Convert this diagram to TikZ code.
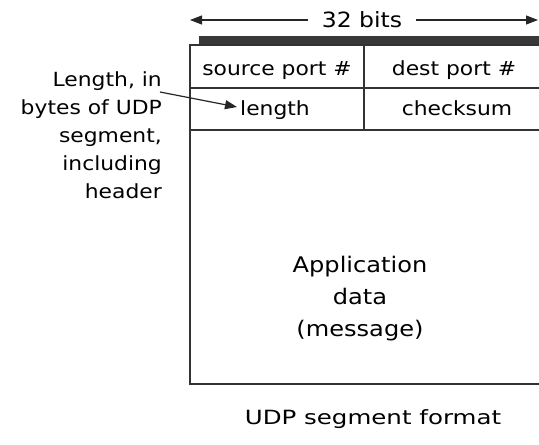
\documentclass[tikz,border=0pt]{standalone}
\usepackage{fontspec}
\setmainfont[FakeStretch=1.12]{DejaVu Sans}
\newfontfamily\capfont[FakeStretch=1.25]{DejaVu Sans}
\usetikzlibrary{arrows.meta}
\begin{document}
\begin{tikzpicture}[x=1pt,y=-1pt,
  frame/.style={draw=black!80, line width=1.5pt},
  lbl/.style={inner sep=0pt, anchor=base, font=\fontsize{19.5}{28}\selectfont},
  ptr/.style={draw=black!85, line width=1.2pt, -{Triangle[length=12pt,width=9pt]}}]
\useasboundingbox[fill=white] (0,0) rectangle (539,445);
% top dark bar
\fill[black!78] (199,36) rectangle (541,45);
% frame lines
\coordinate (tl) at (190,45);
\coordinate (bl) at (190,384);
\draw[frame] (542,45) -- (tl) -- (bl) -- (542,384);
\draw[frame] (190,88) -- (542,88);
\draw[frame] (190,130) -- (542,130);
\draw[frame] (364,45) -- (364,130);
% width arrow
\node[lbl, font=\fontsize{21}{24}\selectfont] (bits) at (362,27) {32 bits};
\coordinate (aL) at (190,20);
\coordinate (aR) at (538,20);
\draw[ptr] (308,20) -- (aL);
\draw[ptr] (416,20) -- (aR);
% fields
\node[lbl] (src) at (277,75) {source port \#};
\node[lbl] (dst) at (454,75) {dest port \#};
\node[lbl] (len) at (275,115) {length};
\node[lbl] (chk) at (457,115) {checksum};
\node[lbl, anchor=base, align=center, font=\fontsize{21.5}{32}\selectfont] (data) at (360,336) {Application\\data\\(message)};
% annotation
\node[lbl, align=right, anchor=base east] (note) at (162,198) {Length, in\\bytes of UDP\\segment,\\including\\header};
\coordinate (noteStart) at (160,92);
\coordinate (lenTip) at (237,107);
\draw[ptr] (noteStart) -- (lenTip);
% caption
\node[lbl, font=\capfont\fontsize{19.6}{24}\selectfont] (cap) at (373,424) {UDP segment format};
\end{tikzpicture}
\end{document}
